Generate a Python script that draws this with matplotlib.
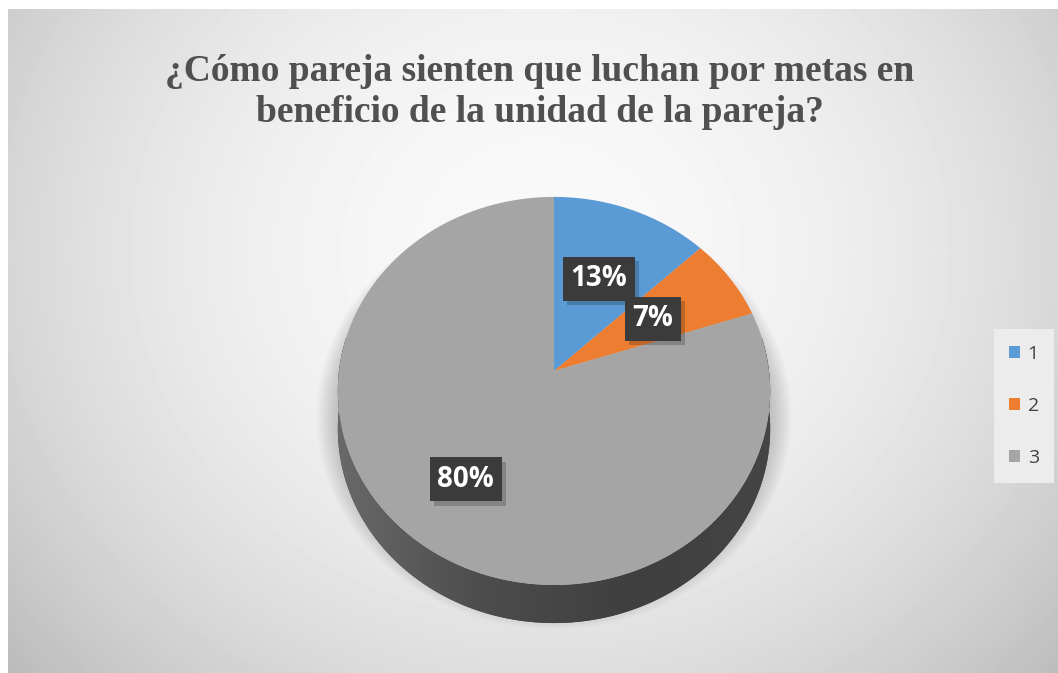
import numpy as np
import matplotlib
matplotlib.use('Agg')
import matplotlib.pyplot as plt
from matplotlib.patches import Polygon
from matplotlib.colors import LinearSegmentedColormap
import matplotlib.patheffects as pe

# data
categories = ['1', '2', '3']
values = [13, 7, 80]
pct_labels = ['13%', '7%', '80%']
colors = ['#5b9bd5', '#ed7d31', '#a5a5a5']
title = '¿Cómo pareja sienten que luchan por metas en\nbeneficio de la unidad de la pareja?'

# layout (pixels)
W, H = 1058, 673
CX, CY = 554, 371        # pie vertex on screen
RX, RY = 215, 192        # screen radii
K = 0.103                # perspective tilt
DEPTH = 38               # thickness of the pie
label_dist = [0.55, 0.55, 0.66]


def proj(u, v):
    w = 1 + K * v
    return CX + RX * u / w, CY - RY * v / w


fig = plt.figure(figsize=(W / 100, H / 100), dpi=100, facecolor='white')
ax = fig.add_axes([0, 0, 1, 1])
ax.axis('off')

# background radial gradient
yy, xx = np.mgrid[9:H, 8:W]
d2 = ((xx - 540) / 620.0) ** 2 + ((yy - 250) / 560.0) ** 2
bg = np.clip(249 - 48 * d2, 180, 250) / 255.0
ax.imshow(bg, extent=[8, W, H, 9], cmap='gray', vmin=0, vmax=1,
          aspect='auto', zorder=0)

# pie from matplotlib (on a helper axes), then projected
pax = fig.add_axes([0, 0, 0.1, 0.1])
wedges, _ = pax.pie(values, colors=colors, startangle=90, counterclock=False,
                    radius=1, center=(0, 0))
pax.remove()

# outline of the whole disc
t = np.radians(np.linspace(0, 360, 400))
ox, oy = proj(np.cos(t), np.sin(t))

# soft shadow under the pie
for i in range(8):
    s = 1 + 0.012 * (i + 1)
    sx = CX + (ox - CX) * s
    sy = CY + DEPTH * 0.6 + (oy - CY) * s
    ax.add_patch(Polygon(np.column_stack([sx, sy]), closed=True,
                         facecolor='black', edgecolor='none', alpha=0.025,
                         zorder=1))

# side band (front half of the disc pushed down)
tf = np.radians(np.linspace(170, 370, 300))
fx, fy = proj(np.cos(tf), np.sin(tf))
band_pts = np.vstack([np.column_stack([fx, fy]),
                      np.column_stack([fx[::-1], fy[::-1] + DEPTH])])
band = Polygon(band_pts, closed=True, facecolor='#4a4a4a', edgecolor='none',
               zorder=2)
ax.add_patch(band)
side_cmap = LinearSegmentedColormap.from_list('side', ['#6c6c6c', '#4d4d4d', '#3f3f3f', '#454545'])
grad = np.linspace(0, 1, 256)[None, :]
im = ax.imshow(grad, extent=[CX - 230, CX + 230, CY + 260, CY - 40],
               cmap=side_cmap, aspect='auto', zorder=3)
im.set_clip_path(band)

# top face
faces = []
for wdg, lab in zip(wedges, categories):
    th = np.radians(np.linspace(wdg.theta1, wdg.theta2, 200))
    u = np.concatenate([[wdg.center[0]], wdg.r * np.cos(th)])
    v = np.concatenate([[wdg.center[1]], wdg.r * np.sin(th)])
    px, py = proj(u, v)
    p = Polygon(np.column_stack([px, py]), closed=True,
                facecolor=wdg.get_facecolor(), edgecolor='none',
                label=lab, zorder=4)
    ax.add_patch(p)
    faces.append(p)

# data labels
for wdg, txt, rd in zip(wedges, pct_labels, label_dist):
    mid = np.radians((wdg.theta1 + wdg.theta2) / 2)
    lx, ly = proj(rd * np.cos(mid), rd * np.sin(mid))
    tx = ax.text(lx, ly, txt, ha='center', va='center', fontsize=20,
                 fontweight='bold', color='white',
                 family=['Open Sans', 'DejaVu Sans'],
                 bbox=dict(boxstyle='square,pad=0.27', facecolor='#3b3b3b',
                           edgecolor='none'), zorder=6)
    tx.get_bbox_patch().set_path_effects(
        [pe.SimplePatchShadow(offset=(3, -3), shadow_rgbFace='black', alpha=0.2),
         pe.Normal()])

# title
ax.text(540, 92, title, ha='center', va='center', fontsize=27,
        fontweight='bold', color='#505050', linespacing=1.25,
        family=['Liberation Serif', 'DejaVu Serif'], zorder=6)

# legend
leg = ax.legend(handles=faces, labels=categories, loc='center',
                bbox_to_anchor=(1024 / W, 1 - 406 / H), frameon=True,
                fancybox=False, facecolor='#ececec', edgecolor='none',
                framealpha=1, handlelength=0.55, handleheight=0.55,
                handletextpad=0.4, labelspacing=1.75, borderpad=0.8,
                borderaxespad=0,
                prop={'family': ['Open Sans'], 'size': 14})
for t_ in leg.get_texts():
    t_.set_color('#404040')

ax.set_xlim(0, W)
ax.set_ylim(H, 0)

fig.savefig('out.png', dpi=100, facecolor='white')
